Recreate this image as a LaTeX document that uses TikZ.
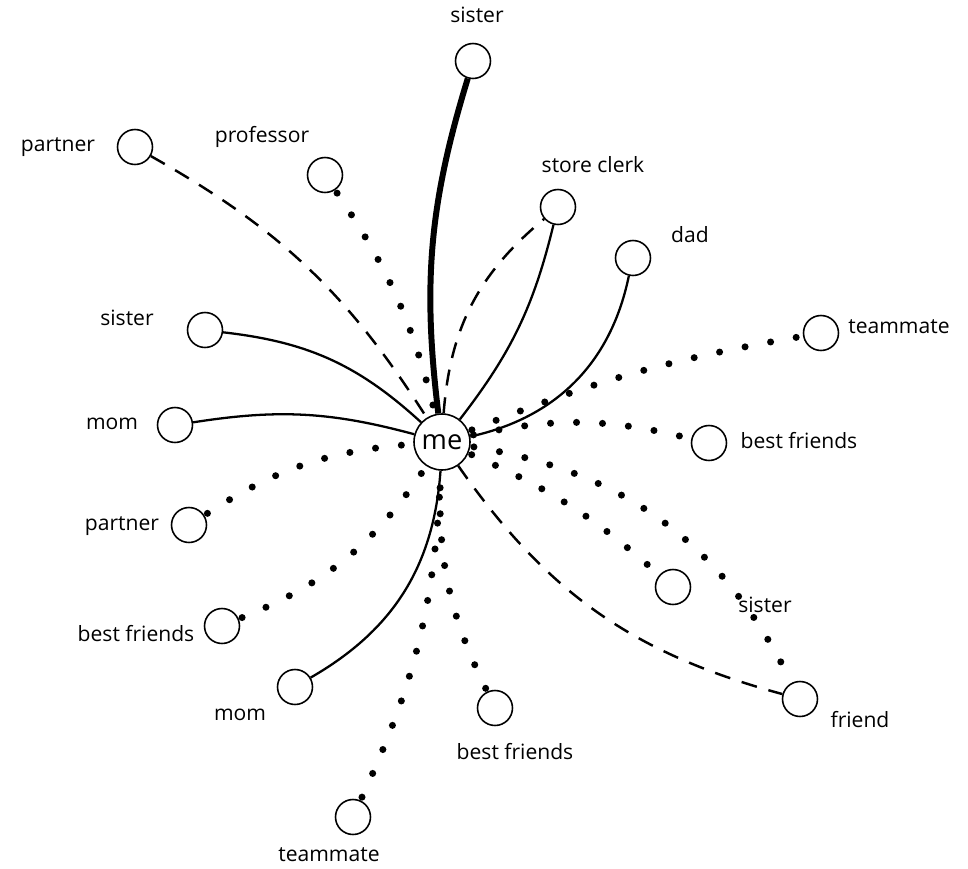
\documentclass[tikz,border=0pt]{standalone}
\usepackage{fontspec}
\setmainfont{Open Sans}
\usetikzlibrary{positioning}
\begin{document}
\begin{tikzpicture}[x=0.02cm, y=-0.02cm,
  person/.style={circle, draw, line width=0.9pt, minimum size=0.7cm, inner sep=0pt},
  centre/.style={circle, draw, line width=0.9pt, minimum size=1.12cm, inner sep=0pt, font=\fontsize{15.5}{16}\selectfont},
  tag/.style={font=\fontsize{12}{14}\selectfont, inner sep=0pt},
  strongtie/.style={line width=3.4pt},
  solidtie/.style={line width=1.3pt},
  dashtie/.style={line width=1.4pt, dash pattern=on 0.32cm off 0.24cm},
  dottie/.style={line width=4pt, line cap=round, dash pattern=on 0pt off 0.52cm, shorten <=2pt, shorten >=2pt}
]
\useasboundingbox (0,0) rectangle (968,869);
\node[centre] (me) at (442,442) {me};
\node[person] (sis1) at (473,61) {};
\node[person] (partner1) at (135,147) {};
\node[person] (prof) at (325,175) {};
\node[person] (clerk) at (558,207) {};
\node[person] (dad) at (633,258) {};
\node[person] (team1) at (821,333) {};
\node[person] (sis2) at (205,330) {};
\node[person] (mom1) at (175,425) {};
\node[person] (bf1) at (709,443) {};
\node[person] (partner2) at (189,525) {};
\node[person] (bf2) at (222,626) {};
\node[person] (sis3) at (673,587) {};
\node[person] (mom2) at (295,687) {};
\node[person] (bf3) at (495,708) {};
\node[person] (team2) at (353,817) {};
\node[person] (friend) at (800,699) {};
\node[tag] (lsis1) at (477,15) {sister};
\node[tag] (lpartner1) at (58,147) {partner};
\node[tag] (lprof) at (262,137) {professor};
\node[tag] (lclerk) at (593,165) {store clerk};
\node[tag] (ldad) at (690,235) {dad};
\node[tag] (lteam1) at (899,327) {teammate};
\node[tag] (lsis2) at (127,318) {sister};
\node[tag] (lmom1) at (112,424) {mom};
\node[tag] (lbf1) at (799,441) {best friends};
\node[tag] (lpartner2) at (122,526) {partner};
\node[tag] (lbf2) at (136,634) {best friends};
\node[tag] (lsis3) at (765,605) {sister};
\node[tag] (lmom2) at (240,715) {mom};
\node[tag] (lbf3) at (515,752) {best friends};
\node[tag] (lteam2) at (329,855) {teammate};
\node[tag] (lfriend) at (860,720) {friend};
\draw[strongtie] (me) to[bend left=12] (sis1);
\draw[dashtie] (partner1) to[bend left=14] (me);
\draw[dottie] (prof) to[bend left=10] (me);
\draw[dashtie] (me) to[bend left=23] (clerk);
\draw[solidtie] (clerk) to[bend left=12] (me);
\draw[solidtie] (me) to[bend right=33] (dad);
\draw[dottie] (me) to[bend left=6] (team1);
\draw[solidtie] (sis2) to[bend left=18] (me);
\draw[solidtie] (mom1) to[bend left=12] (me);
\draw[dottie] (me) to[bend left=13] (bf1);
\draw[dottie] (partner2) to[bend left=14] (me);
\draw[dottie] (bf2) to[bend right=17] (me);
\draw[solidtie] (mom2) to[bend right=28] (me);
\draw[dottie] (team2) to[bend right=11] (me);
\draw[dottie] (bf3) to[bend left=14] (me);
\draw[dottie] (me) to[bend left=9] (sis3);
\draw[dottie] (me) to[bend left=27] (friend);
\draw[dashtie] (me) to[bend right=20] (friend);
\end{tikzpicture}
\end{document}
